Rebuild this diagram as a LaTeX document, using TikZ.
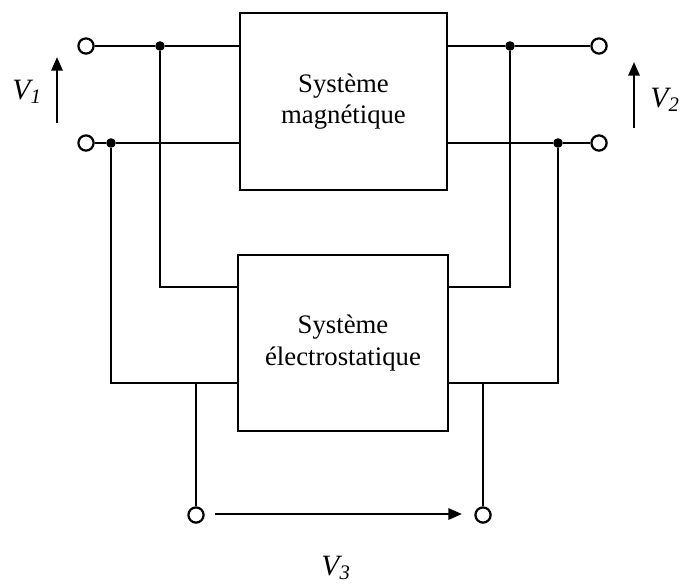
\documentclass[tikz,border=0pt]{standalone}
\usepackage{fontspec}
\setmainfont{Liberation Serif}
\usepackage{tikz}
\usetikzlibrary{arrows.meta,positioning}

\begin{document}
\begin{tikzpicture}[
    x=0.025cm, y=-0.025cm,
    block/.style={rectangle, draw, line width=1.7pt, align=center, font=\fontsize{19}{22.5}\selectfont},
    wire/.style={line width=1.7pt},
    term/.style={circle, draw, line width=1.6pt, fill=white, minimum size=0.38cm, inner sep=0pt},
    dot/.style={circle, fill, minimum size=0.24cm, inner sep=0pt},
    varrow/.style={-{Triangle[length=0.34cm,width=0.28cm]}, line width=1.7pt},
    vlabel/.style={font=\fontsize{21}{24}\selectfont\itshape}
]
    \useasboundingbox (0,0) rectangle (684,585);

    % Blocks
    \node[block, minimum width=5.17cm, minimum height=4.42cm] (mag) at (343.5,101.5) {Système\\magnétique};
    \node[block, minimum width=5.25cm, minimum height=4.4cm] (es) at (343,343) {Système\\électrostatique};

    % Terminals
    \node[term] (in1) at (86,46) {};
    \node[term] (in2) at (86,143) {};
    \node[term] (out1) at (599,46) {};
    \node[term] (out2) at (599,143) {};
    \node[term] (g1) at (196,515) {};
    \node[term] (g2) at (483,515) {};

    % Junctions
    \node[dot] (ja) at (160,46) {};
    \node[dot] (jb) at (111,143) {};
    \node[dot] (jc) at (510,46) {};
    \node[dot] (jd) at (558,143) {};
    \coordinate (r1) at (0,287);
    \coordinate (r2) at (0,383);

    % Wires
    \draw[wire] (in1) -- (ja) -- (mag.west |- in1);
    \draw[wire] (in2) -- (jb) -- (mag.west |- in2);
    \draw[wire] (mag.east |- out1) -- (jc) -- (out1);
    \draw[wire] (mag.east |- out2) -- (jd) -- (out2);
    \draw[wire] (ja) |- (es.west |- r1);
    \draw[wire] (jb) |- (es.west |- r2);
    \draw[wire] (jc) |- (es.east |- r1);
    \draw[wire] (jd) |- (es.east |- r2);
    \draw[wire] (g1) -- (g1 |- r2);
    \draw[wire] (g2) -- (g2 |- r2);

    % Voltages
    \coordinate (v1b) at (57,123);
    \coordinate (v1t) at (57,57);
    \coordinate (v2b) at (634,128);
    \coordinate (v2t) at (634,62);
    \coordinate (v3a) at (215,514);
    \coordinate (v3b) at (462,514);
    \draw[varrow] (v1b) -- (v1t);
    \draw[varrow] (v2b) -- (v2t);
    \draw[varrow] (v3a) -- (v3b);
    \node[vlabel] (v1) at (27,92) {V\textsubscript{1}};
    \node[vlabel] (v2) at (665,100) {V\textsubscript{2}};
    \node[vlabel] (v3) at (336,568) {V\textsubscript{3}};
\end{tikzpicture}
\end{document}
